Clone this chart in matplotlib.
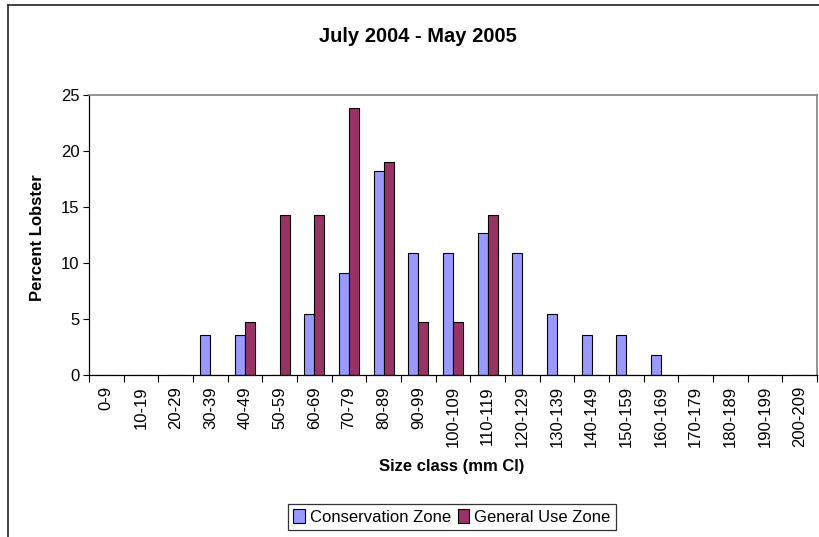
import numpy as np
import matplotlib
matplotlib.use("Agg")
import matplotlib.pyplot as plt
from matplotlib.lines import Line2D

plt.rcParams["font.family"] = ["Liberation Sans", "DejaVu Sans"]

size_classes = ["0-9", "10-19", "20-29", "30-39", "40-49", "50-59", "60-69",
                "70-79", "80-89", "90-99", "100-109", "110-119", "120-129",
                "130-139", "140-149", "150-159", "160-169", "170-179",
                "180-189", "190-199", "200-209"]
conservation = [0, 0, 0, 3.6, 3.6, 0, 5.45, 9.1, 18.2, 10.9, 10.9, 12.7,
                10.9, 5.45, 3.6, 3.6, 1.8, 0, 0, 0, 0]
general_use = [0, 0, 0, 0, 4.76, 14.29, 14.29, 23.8, 19.05, 4.76, 4.76,
               14.29, 0, 0, 0, 0, 0, 0, 0, 0, 0]

fig = plt.figure(figsize=(8.2, 5.37), dpi=100)
ax = fig.add_axes([89 / 820, 1 - 375 / 537, (817 - 89) / 820, (375 - 95) / 537])

x = np.arange(len(size_classes))
w = 0.29
ax.bar(x - w / 2, conservation, width=w, color="#9999FF", edgecolor="black",
       linewidth=0.8, label="Conservation Zone")
ax.bar(x + w / 2, general_use, width=w, color="#993366", edgecolor="black",
       linewidth=0.8, label="General Use Zone")

ax.set_xlim(-0.5, len(size_classes) - 0.5)
ax.set_ylim(0, 25)
ax.set_yticks(range(0, 26, 5))
ax.set_xticks(x)
ax.set_xticklabels(size_classes, rotation=90, fontsize=12)
ax.set_xticks(np.arange(-0.5, len(size_classes)), minor=True)
ax.tick_params(axis="x", which="major", length=0, pad=8)
ax.tick_params(axis="x", which="minor", length=5, width=0.8, direction="out")
ax.tick_params(axis="y", length=4, width=0.8, labelsize=12, pad=3)

for side in ["top", "right"]:
    ax.spines[side].set_color("#808080")
    ax.spines[side].set_linewidth(1.2)
for side in ["left", "bottom"]:
    ax.spines[side].set_color("black")
    ax.spines[side].set_linewidth(0.9)

fig.text(418 / 820, 1 - 36 / 537, "July 2004 - May 2005", fontsize=14.5,
         fontweight="bold", ha="center", va="center")
fig.text(38 / 820, 1 - 238 / 537, "Percent Lobster", fontsize=12,
         fontweight="bold", rotation=90, ha="center", va="center")
fig.text(452 / 820, 1 - 467 / 537, "Size class (mm Cl)", fontsize=12,
         fontweight="bold", ha="center", va="center")

leg = fig.legend(loc="center", bbox_to_anchor=(452 / 820, 1 - 517 / 537),
                 ncol=2, frameon=True, fancybox=False, fontsize=12,
                 handlelength=0.7, handleheight=0.9, handletextpad=0.3,
                 columnspacing=0.4, borderpad=0.3, borderaxespad=0)
leg.get_frame().set_edgecolor("black")
leg.get_frame().set_linewidth(0.9)

# chart area border (top and left visible)
fig.add_artist(Line2D([8 / 820, 1], [1 - 5 / 537, 1 - 5 / 537],
                      transform=fig.transFigure, color="#222222", linewidth=1.2))
fig.add_artist(Line2D([8 / 820, 8 / 820], [0, 1 - 5 / 537],
                      transform=fig.transFigure, color="#222222", linewidth=1.2))

fig.savefig("out.png", dpi=100)
